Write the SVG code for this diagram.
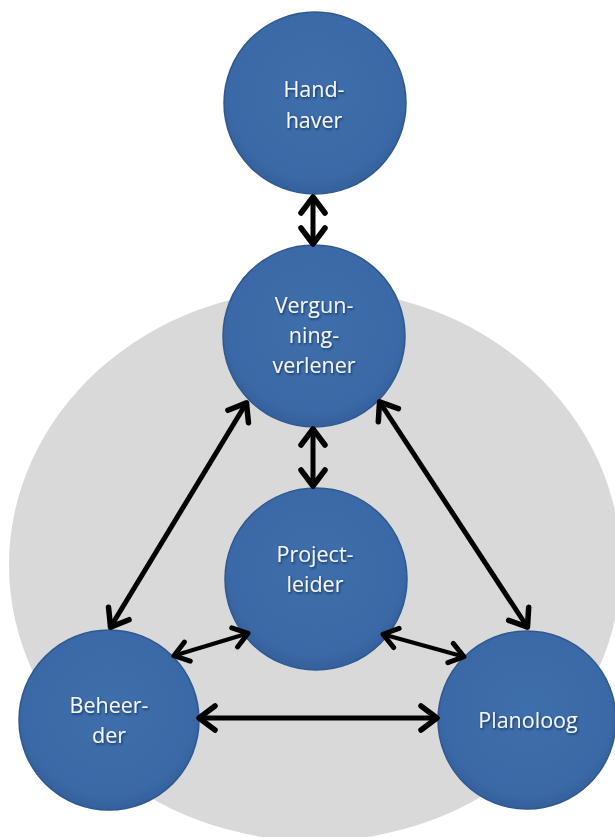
<svg xmlns="http://www.w3.org/2000/svg" width="615" height="837" viewBox="0 0 615 837">
  <defs>
    <style>
      .node { fill: url(#blue); stroke: #2e5a8f; stroke-width: 1.5; }
      .label { font-family: "Open Sans", "Liberation Sans", sans-serif; font-size: 21.5px; fill: #f4f6fa; text-anchor: middle; filter: url(#shadow); }
      .conn { stroke: #000; fill: none; stroke-width: 5; marker-start: url(#head); marker-end: url(#head); }
      .conn.thin { stroke-width: 4.2; marker-start: url(#headS); marker-end: url(#headS); }
    </style>
    <radialGradient id="blue" cx="50%" cy="45%" r="55%">
      <stop offset="0%" stop-color="#3e6eab"/>
      <stop offset="85%" stop-color="#3b69a7"/>
      <stop offset="100%" stop-color="#34609c"/>
    </radialGradient>
    <filter id="shadow" x="-20%" y="-30%" width="140%" height="160%">
      <feDropShadow dx="1" dy="1.5" stdDeviation="0.8" flood-color="#102a50" flood-opacity="0.8"/>
    </filter>
    <marker id="head" markerUnits="userSpaceOnUse" viewBox="-24 -16 30 32" markerWidth="30" markerHeight="32" refX="0" refY="0" orient="auto-start-reverse" overflow="visible">
      <path d="M-17,-12 L-1,0 L-17,12" fill="none" stroke="#000" stroke-width="5.5" stroke-linecap="round" stroke-linejoin="round"/>
    </marker>
    <marker id="headS" markerUnits="userSpaceOnUse" viewBox="-24 -16 30 32" markerWidth="30" markerHeight="32" refX="0" refY="0" orient="auto-start-reverse" overflow="visible">
      <path d="M-15,-10 L-1,0 L-15,10" fill="none" stroke="#000" stroke-width="5" stroke-linecap="round" stroke-linejoin="round"/>
    </marker>
  </defs>

  <rect x="0" y="0" width="615" height="837" fill="#ffffff"/>
  <ellipse id="background" cx="315" cy="565" rx="306" ry="276" fill="#d9d9d9"/>

  <g id="handhaver">
    <circle class="node" cx="315" cy="103" r="91"/>
    <text class="label" x="314" y="97">Hand-</text>
    <text class="label" x="314" y="128">haver</text>
  </g>

  <g id="vergunningverlener">
    <circle class="node" cx="314" cy="336" r="91"/>
    <text class="label" x="314" y="313">Vergun-</text>
    <text class="label" x="314" y="343">ning-</text>
    <text class="label" x="314" y="373">verlener</text>
  </g>

  <g id="projectleider">
    <circle class="node" cx="316" cy="579" r="91"/>
    <text class="label" x="315" y="562">Project-</text>
    <text class="label" x="315" y="592">leider</text>
  </g>

  <g id="beheerder">
    <circle class="node" cx="109" cy="720" r="90"/>
    <text class="label" x="109" y="713">Beheer-</text>
    <text class="label" x="109" y="743">der</text>
  </g>

  <g id="planoloog">
    <circle class="node" cx="527" cy="720" r="89"/>
    <text class="label" x="528" y="728">Planoloog</text>
  </g>

  <g id="connectors">
    <line class="conn" x1="313" y1="196" x2="313" y2="245"/>
    <line class="conn" x1="313" y1="428" x2="313" y2="487"/>
    <line class="conn" x1="247" y1="402" x2="110" y2="628"/>
    <line class="conn" x1="379" y1="401" x2="528" y2="628"/>
    <line class="conn thin" x1="249" y1="633" x2="173" y2="656"/>
    <line class="conn thin" x1="382" y1="634" x2="465" y2="657"/>
    <line class="conn" x1="198" y1="718" x2="438" y2="718"/>
  </g>
</svg>
